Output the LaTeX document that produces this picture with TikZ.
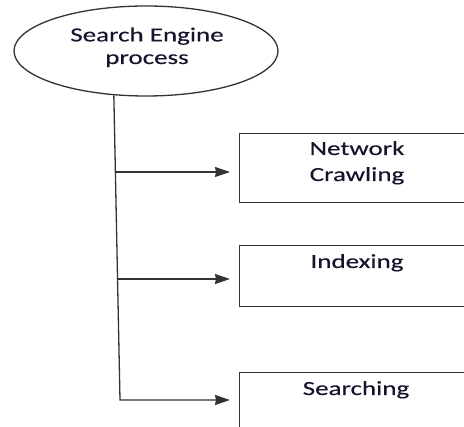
\documentclass[tikz,border=0pt]{standalone}
\usepackage{fontspec}
\setmainfont{Carlito}[FakeStretch=1.35,FakeBold=0.2]
\usetikzlibrary{arrows.meta,shapes.geometric,calc}
\tikzset{
  stroke/.style={draw=black!80, line width=1.3pt},
  procshape/.style={stroke, ellipse, minimum width=264pt, minimum height=90pt, inner sep=0pt},
  stagebox/.style={stroke, rectangle, minimum width=236pt, inner sep=0pt, anchor=north west},
  caption/.style={text={rgb,255:red,20;green,20;blue,45}, inner sep=0pt, anchor=base, align=center},
  flow/.style={stroke, -{Stealth[length=15pt,width=10pt,inset=1pt]}, shorten >=9pt},
}
\begin{document}
\begin{tikzpicture}[x=1pt,y=-1pt]
  \clip (0,0) rectangle (464,427);
  \fill[white] (0,0) rectangle (464,427);

  % main process ellipse
  \node[procshape] (proc) at (146,51) {};
  % base anchor of a two-line caption sits on its last line
  \node[caption, font=\fontsize{20}{22.6}\selectfont] (proctext) at (147,64) {Search Engine\\process};

  % stage boxes (open to the right)
  \node[stagebox, minimum height=69pt] (b1) at (239,133) {};
  \node[stagebox, minimum height=61pt] (b2) at (239,245) {};
  \node[stagebox, minimum height=68pt] (b3) at (239,372) {};

  \node[caption, font=\fontsize{20}{26}\selectfont] (t1) at (357,181) {Network\\Crawling};
  \node[caption, font=\fontsize{20}{26}\selectfont] (t2) at (357,268) {Indexing};
  \node[caption, font=\fontsize{20}{26}\selectfont] (t3) at (356,395) {Searching};

  % trunk and branches
  \coordinate (j1) at (116.3,172);
  \coordinate (j2) at (118.0,279);
  \coordinate (corner) at (120,400);
  \draw[flow] (proc.234.6) -- (corner) -- (corner -| b3.west);
  \draw[flow] (j1) -- (j1 -| b1.west);
  \draw[flow] (j2) -- (j2 -| b2.west);
\end{tikzpicture}
\end{document}
